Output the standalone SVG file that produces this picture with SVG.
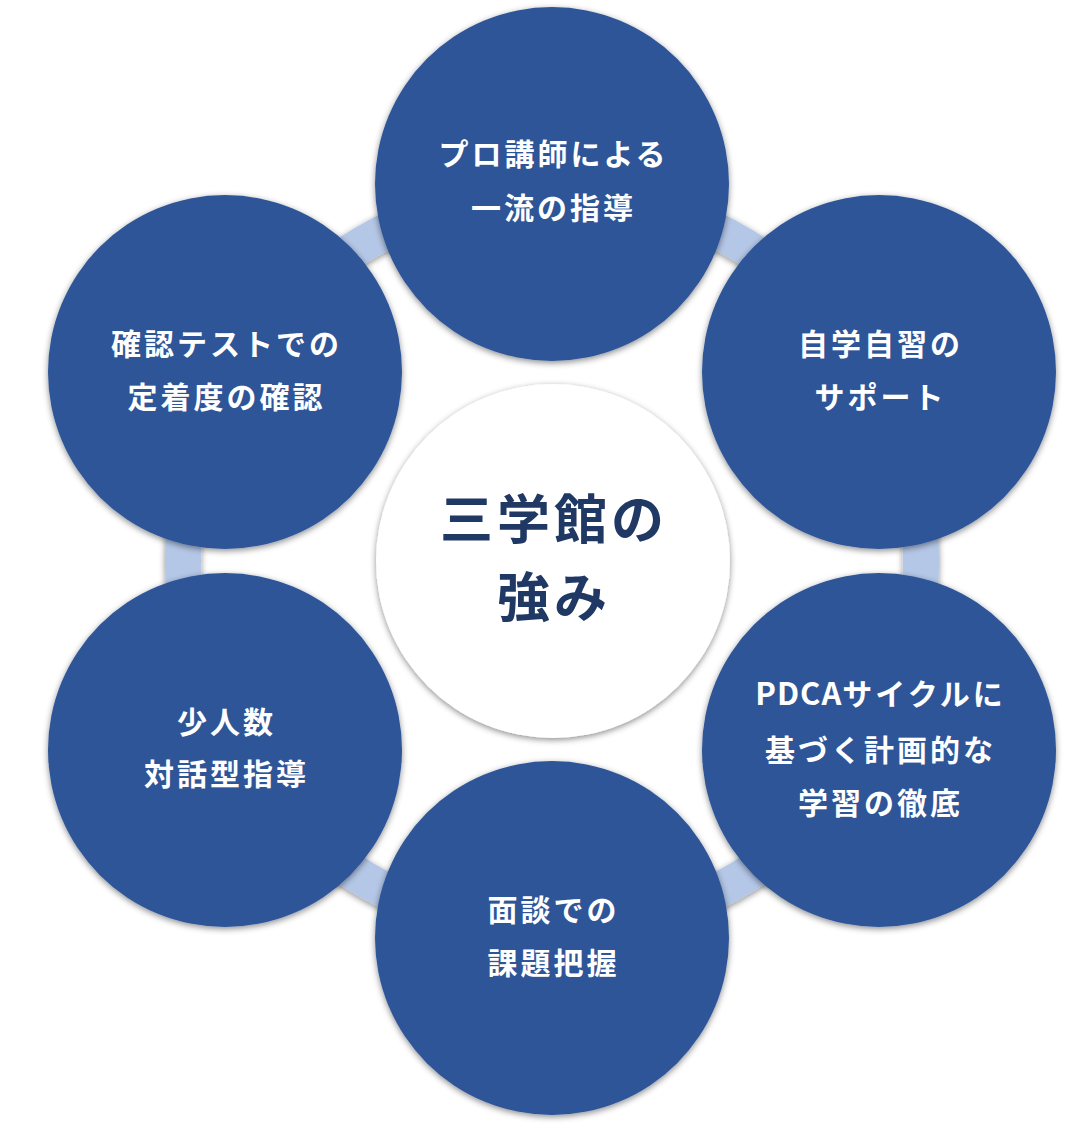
<svg xmlns="http://www.w3.org/2000/svg" width="1089" height="1129" viewBox="0 0 1089 1129">
<defs>
<filter id="sh" x="-20%" y="-20%" width="140%" height="140%">
<feDropShadow dx="0" dy="2" stdDeviation="3" flood-color="#000" flood-opacity="0.45"/>
</filter>
<style>
.node{fill:#2F5597;filter:url(#sh)}
.hub{fill:#FFFFFF;filter:url(#sh)}
.ring{fill:none;stroke:#B4C7E7;stroke-width:36;filter:url(#sh)}
.t{font-family:"Noto Sans CJK JP","Noto Sans CJK SC",sans-serif;font-weight:700;font-size:30px;fill:#FFFFFF;text-anchor:middle;letter-spacing:3px}
.lat{letter-spacing:1px;font-size:31px}
.ct{font-family:"Noto Sans CJK JP","Noto Sans CJK SC",sans-serif;font-weight:700;font-size:53px;fill:#203864;text-anchor:middle;letter-spacing:4px}
</style>
</defs>
<rect width="1089" height="1129" fill="#FFFFFF"/>
<g id="connectors">
<circle class="ring" cx="552" cy="561" r="369"/>
</g>
<g id="node-top">
<circle class="node" cx="552" cy="184" r="177"/>
<text class="t"><tspan x="553.5" y="165">プロ講師による</tspan><tspan x="553.5" y="219">一流の指導</tspan></text>
</g>
<g id="node-top-right">
<circle class="node" cx="879" cy="372" r="177"/>
<text class="t"><tspan x="880.5" y="355">自学自習の</tspan><tspan x="880.5" y="408">サポート</tspan></text>
</g>
<g id="node-bottom-right">
<circle class="node" cx="879" cy="750" r="177"/>
<text class="t"><tspan x="880.5" y="705"><tspan class="lat">PDCA</tspan>サイクルに</tspan><tspan x="880.5" y="761">基づく計画的な</tspan><tspan x="880.5" y="814">学習の徹底</tspan></text>
</g>
<g id="node-bottom">
<circle class="node" cx="552" cy="938" r="177"/>
<text class="t"><tspan x="553.5" y="921">面談での</tspan><tspan x="553.5" y="974">課題把握</tspan></text>
</g>
<g id="node-bottom-left">
<circle class="node" cx="225" cy="750" r="177"/>
<text class="t"><tspan x="226.5" y="733">少人数</tspan><tspan x="226.5" y="785">対話型指導</tspan></text>
</g>
<g id="node-top-left">
<circle class="node" cx="225" cy="372" r="177"/>
<text class="t"><tspan x="226.5" y="355">確認テストでの</tspan><tspan x="226.5" y="408">定着度の確認</tspan></text>
</g>
<g id="node-center">
<circle class="hub" cx="553" cy="561" r="177"/>
<text class="ct"><tspan x="554" y="539">三学館の</tspan><tspan x="554" y="617">強み</tspan></text>
</g>
</svg>
